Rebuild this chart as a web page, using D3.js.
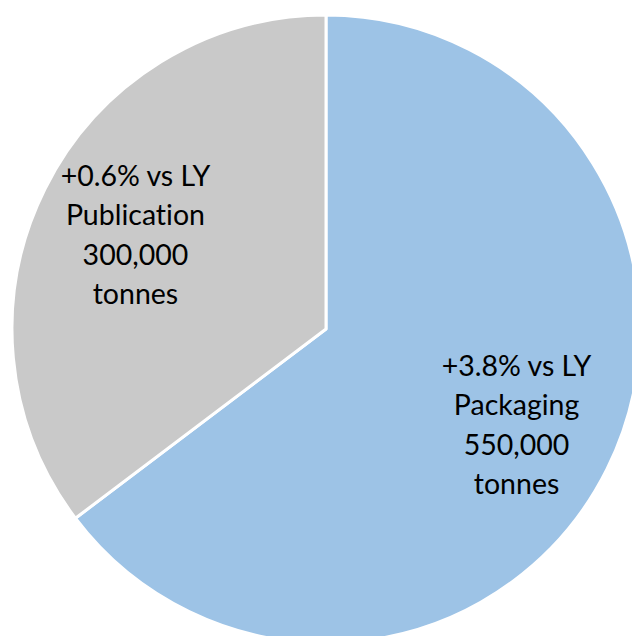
<!DOCTYPE html>
<html><head><meta charset="utf-8">
<script src="https://cdn.jsdelivr.net/npm/d3@7"></script>
<style>html,body{margin:0;padding:0;background:#fff;overflow:hidden} text{font-variant-ligatures:none;font-feature-settings:"liga" 0,"dlig" 0}</style>
</head><body>
<svg id="c" width="632" height="636"></svg>
<script>
const categories = ["Packaging", "Publication"];
const values = [550000, 300000];
const changes = ["+3.8% vs LY", "+0.6% vs LY"];
const colors = ["#9DC3E6", "#C9C9C9"];

const svg = d3.select("#c");
const cx = 326, cy = 329, r = 314;
const g = svg.append("g").attr("transform", `translate(${cx},${cy})`);
const pie = d3.pie().sort(null).value(d => d.v);
const data = categories.map((c, i) => ({c, v: values[i], ch: changes[i], col: colors[i]}));
const arcs = pie(data);
const arc = d3.arc().innerRadius(0).outerRadius(r);
g.selectAll("path").data(arcs).join("path")
  .attr("d", arc).attr("fill", d => d.data.col)
  .attr("stroke", "#fff").attr("stroke-width", 3).attr("stroke-linejoin", "round");

const labelArc = d3.arc().innerRadius(r * 0.678).outerRadius(r * 0.678);
const fmt = d3.format(",");
const lh = 39.3;
arcs.forEach(a => {
  const [x, y] = labelArc.centroid(a);
  const lines = [a.data.ch, a.data.c, fmt(a.data.v), "tonnes"];
  const t = g.append("text").attr("text-anchor", "middle")
    .attr("font-family", "Lato, 'Open Sans', sans-serif").attr("font-size", 28.5).attr("fill", "#000");
  lines.forEach((l, i) => {
    t.append("tspan").attr("x", x).attr("y", y + (i - 1.5) * lh + 11).text(l);
  });
});
</script>
</body></html>
